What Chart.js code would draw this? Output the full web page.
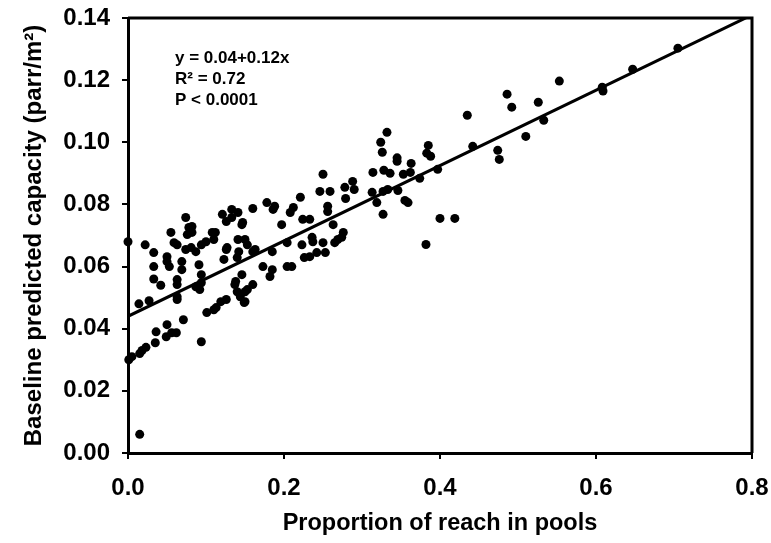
<!DOCTYPE html>
<html>
<head>
<meta charset="utf-8">
<title>Baseline predicted capacity vs pools</title>
<script src="https://cdn.jsdelivr.net/npm/chart.js@4.4.1/dist/chart.umd.min.js"></script>
<style>
  html, body { margin: 0; padding: 0; background: #fff; }
  #wrap { width: 771px; height: 543px; }
</style>
</head>
<body>
<div id="wrap"><canvas id="chart" width="771" height="543"></canvas></div>
<script>
// Werte
const poolProportion = [
  0.000, 0.001, 0.005, 0.015, 0.018, 0.023, 0.015, 0.014, 0.027, 0.022,
  0.033, 0.033, 0.033, 0.042, 0.035, 0.036, 0.049, 0.056, 0.062, 0.050,
  0.071, 0.050, 0.050, 0.053, 0.059, 0.063, 0.055, 0.074, 0.078, 0.082,
  0.076, 0.082, 0.074, 0.081, 0.069, 0.069, 0.063, 0.063, 0.063, 0.087,
  0.094, 0.100, 0.108, 0.110, 0.091, 0.094, 0.094, 0.092, 0.087, 0.121,
  0.126, 0.133, 0.133, 0.141, 0.146, 0.126, 0.123, 0.140, 0.142, 0.138,
  0.140, 0.119, 0.113, 0.126, 0.101, 0.110, 0.149, 0.094, 0.137, 0.150,
  0.150, 0.146, 0.112, 0.127, 0.141, 0.153, 0.160, 0.160, 0.178, 0.188,
  0.186, 0.147, 0.150, 0.163, 0.185, 0.204, 0.197, 0.212, 0.208, 0.221,
  0.224, 0.233, 0.236, 0.237, 0.223, 0.250, 0.233, 0.242, 0.253, 0.226,
  0.173, 0.185, 0.204, 0.210, 0.182, 0.160, 0.153, 0.144, 0.250, 0.246,
  0.259, 0.278, 0.288, 0.290, 0.279, 0.256, 0.256, 0.263, 0.276, 0.274,
  0.269, 0.265, 0.332, 0.324, 0.326, 0.345, 0.345, 0.385, 0.383, 0.388,
  0.363, 0.314, 0.328, 0.336, 0.353, 0.362, 0.374, 0.397, 0.313, 0.327,
  0.333, 0.346, 0.319, 0.355, 0.359, 0.327, 0.400, 0.419, 0.382, 0.435,
  0.442, 0.474, 0.476, 0.486, 0.492, 0.526, 0.533, 0.510, 0.553, 0.608,
  0.609, 0.647, 0.705, 0.063
];
const capacity = [
  0.0680, 0.0300, 0.0310, 0.0320, 0.0330, 0.0340, 0.0060, 0.0480, 0.0490, 0.0670,
  0.0645, 0.0600, 0.0560, 0.0540, 0.0355, 0.0390, 0.0374, 0.0387, 0.0387, 0.0413,
  0.0429, 0.0632, 0.0616, 0.0600, 0.0677, 0.0670, 0.0710, 0.0758, 0.0726, 0.0729,
  0.0703, 0.0710, 0.0655, 0.0661, 0.0616, 0.0590, 0.0558, 0.0542, 0.0503, 0.0648,
  0.0670, 0.0680, 0.0710, 0.0687, 0.0606, 0.0574, 0.0548, 0.0526, 0.0535, 0.0768,
  0.0745, 0.0784, 0.0758, 0.0774, 0.0735, 0.0655, 0.0623, 0.0629, 0.0648, 0.0552,
  0.0519, 0.0487, 0.0468, 0.0494, 0.0452, 0.0461, 0.0484, 0.0358, 0.0542, 0.0519,
  0.0487, 0.0574, 0.0710, 0.0661, 0.0687, 0.0670, 0.0648, 0.0787, 0.0806, 0.0794,
  0.0784, 0.0742, 0.0687, 0.0655, 0.0648, 0.0677, 0.0735, 0.0790, 0.0774, 0.0823,
  0.0752, 0.0752, 0.0694, 0.0680, 0.0670, 0.0677, 0.0632, 0.0645, 0.0645, 0.0629,
  0.0600, 0.0590, 0.0600, 0.0600, 0.0568, 0.0542, 0.0526, 0.0503, 0.0897, 0.0842,
  0.0842, 0.0855, 0.0874, 0.0848, 0.0819, 0.0794, 0.0777, 0.0735, 0.0710, 0.0694,
  0.0687, 0.0677, 0.1032, 0.1000, 0.0968, 0.0950, 0.0939, 0.0990, 0.0965, 0.0955,
  0.0932, 0.0903, 0.0910, 0.0900, 0.0897, 0.0903, 0.0884, 0.0913, 0.0839, 0.0842,
  0.0848, 0.0845, 0.0806, 0.0813, 0.0806, 0.0768, 0.0755, 0.0755, 0.0671, 0.1087,
  0.0987, 0.0974, 0.0945, 0.1155, 0.1113, 0.1129, 0.1071, 0.1019, 0.1197, 0.1177,
  0.1165, 0.1235, 0.1303, 0.0494
];

const fitX = [0.0, 0.8];
const fitY = [0.044, 0.141];

const xTicks = [0.0, 0.2, 0.4, 0.6, 0.8];
const yTicks = [0.00, 0.02, 0.04, 0.06, 0.08, 0.10, 0.12, 0.14];

const statLines = ['y = 0.04+0.12x', 'R\u00B2 = 0.72', 'P < 0.0001'];
const xTitle = 'Proportion of reach in pools';
const yTitle = 'Baseline predicted capacity (parr/m\u00B2)';

const FONT = '"Liberation Sans", Arial, sans-serif';

// Rahmen oben und rechts
const framePlugin = {
  id: 'frame',
  afterDatasetsDraw(chart) {
    const { ctx, chartArea: a } = chart;
    ctx.save();
    ctx.strokeStyle = '#000';
    ctx.lineWidth = 3;
    ctx.beginPath();
    ctx.moveTo(a.left, a.top);
    ctx.lineTo(a.right, a.top);
    ctx.lineTo(a.right, a.bottom);
    ctx.stroke();
    ctx.restore();
  }
};

// Statistik-Text oben links
const statsPlugin = {
  id: 'stats',
  afterDraw(chart) {
    const { ctx, chartArea: a } = chart;
    ctx.save();
    ctx.fillStyle = '#000';
    ctx.font = 'bold 17px ' + FONT;
    ctx.textBaseline = 'middle';
    ctx.textAlign = 'left';
    statLines.forEach((t, i) => {
      ctx.fillText(t, a.left + 47, a.top + 40 + i * 21);
    });
    ctx.restore();
  }
};

const points = poolProportion.map((x, i) => ({ x: x, y: capacity[i] }));
const fitLine = fitX.map((x, i) => ({ x: x, y: fitY[i] }));

new Chart(document.getElementById('chart'), {
  type: 'scatter',
  data: {
    datasets: [
      {
        label: 'Reaches',
        data: points,
        backgroundColor: '#000',
        borderColor: '#000',
        pointRadius: 4.5,
        pointBorderWidth: 0,
        clip: false,
        order: 2
      },
      {
        label: 'Fit',
        type: 'line',
        data: fitLine,
        borderColor: '#000',
        borderWidth: 3,
        pointRadius: 0,
        fill: false,
        order: 1
      }
    ]
  },
  options: {
    responsive: false,
    animation: false,
    events: [],
    layout: { padding: { top: 18, right: 19, left: 0, bottom: 0 } },
    plugins: {
      legend: { display: false },
      tooltip: { enabled: false }
    },
    scales: {
      x: {
        type: 'linear',
        min: 0,
        max: 0.8,
        afterBuildTicks: s => { s.ticks = xTicks.map(v => ({ value: v })); },
        afterFit: s => {
          s.height = 90;
          s.paddingLeft = 0;
          s.paddingRight = 0;
        },
        ticks: {
          callback: v => Number(v).toFixed(1),
          color: '#000',
          font: { family: FONT, size: 24, weight: 'bold' },
          padding: 15,
          maxRotation: 0
        },
        grid: {
          drawOnChartArea: false,
          drawTicks: true,
          tickLength: 6,
          color: '#000',
          lineWidth: 2
        },
        border: { display: true, color: '#000', width: 3 },
        title: {
          display: true,
          text: xTitle,
          color: '#000',
          font: { family: FONT, size: 23.5, weight: 'bold' },
          padding: { top: 0, bottom: 5 }
        }
      },
      y: {
        type: 'linear',
        min: 0,
        max: 0.14,
        afterBuildTicks: s => { s.ticks = yTicks.map(v => ({ value: v })); },
        afterFit: s => {
          s.width = 128;
          s.paddingTop = 0;
          s.paddingBottom = 0;
        },
        ticks: {
          callback: v => Number(v).toFixed(2),
          color: '#000',
          font: { family: FONT, size: 24, weight: 'bold' },
          padding: 12
        },
        grid: {
          drawOnChartArea: false,
          drawTicks: true,
          tickLength: 6,
          color: '#000',
          lineWidth: 2
        },
        border: { display: true, color: '#000', width: 3 },
        title: {
          display: true,
          text: yTitle,
          color: '#000',
          font: { family: FONT, size: 24, weight: 'bold' },
          padding: { top: 20, bottom: 0 }
        }
      }
    }
  },
  plugins: [framePlugin, statsPlugin]
});
</script>
</body>
</html>
